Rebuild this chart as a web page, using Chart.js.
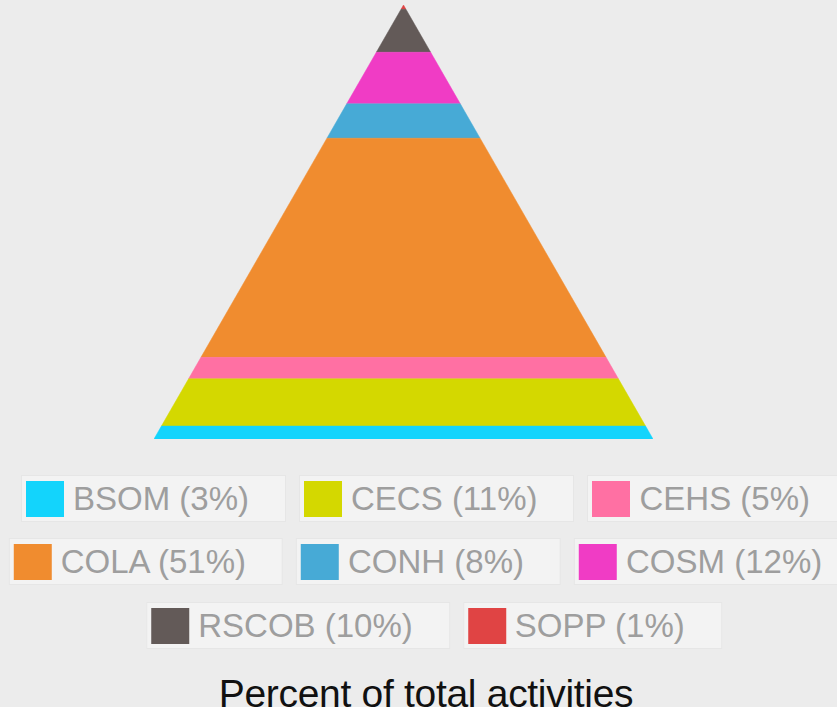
<!DOCTYPE html>
<html>
<head>
<meta charset="utf-8">
<script src="https://cdn.jsdelivr.net/npm/chart.js@4/dist/chart.umd.min.js"></script>
<style>
  html, body { margin: 0; padding: 0; background: #ececec; }
  #wrap { position: relative; width: 837px; height: 707px; overflow: hidden; font-family: "Liberation Sans", Arial, sans-serif; }
  #pyramid { position: absolute; left: 0; top: 0; }
  .row { position: absolute; left: 434px; transform: translateX(-50%); display: flex; gap: 13px; white-space: nowrap; }
  .item { display: flex; align-items: center; height: 47px; padding: 0 36px 0 4px; background: #f3f3f3; border: 1px solid #e6e6e6; box-sizing: border-box; }
  .box { width: 38px; height: 36px; margin-right: 9px; }
  .label { font-size: 33px; color: #9e9e9e; }
  #title { position: absolute; left: 0; width: 852px; top: 674px; text-align: center; font-size: 39px; line-height: 40px; color: #111; letter-spacing: -0.3px; }
</style>
</head>
<body>
<div id="wrap">
  <canvas id="pyramid" width="837" height="450"></canvas>
  <div id="legend"></div>
  <div id="title">Percent of total activities</div>
</div>
<script>
// bottom to top
const categories = ["BSOM", "CECS", "CEHS", "COLA", "CONH", "COSM", "RSCOB", "SOPP"];
const percents = [3, 11, 5, 51, 8, 12, 10, 1];
const colors = ["#13d4fc", "#d4d800", "#ff70a3", "#f08c2f", "#47aad6", "#f03cc5", "#635a58", "#e04444"];
const legendRows = [
    ["BSOM", "CECS", "CEHS"],
    ["COLA", "CONH", "COSM"],
    ["RSCOB", "SOPP"]
];

document.addEventListener("DOMContentLoaded", function () {
    const total = percents.reduce((a, b) => a + b, 0);
    const half = c => 50 * (1 - c / total);

    // each slice is a trapezoid in data units (x: half width, y: cumulative percent)
    let cum = 0;
    const datasets = categories.map((name, i) => {
        const lo = cum, hi = cum + percents[i];
        cum = hi;
        return {
            label: name,
            data: [
                { x: -half(lo), y: lo }, { x: half(lo), y: lo },
                { x: half(hi), y: hi }, { x: -half(hi), y: hi },
                { x: -half(lo), y: lo }
            ],
            backgroundColor: colors[i],
            borderColor: colors[i],
            borderWidth: 0.5,
            pointRadius: 0,
            tension: 0,
            fill: "shape"
        };
    });

    new Chart(document.getElementById("pyramid").getContext("2d"), {
        type: "line",
        data: { datasets: datasets },
        options: {
            responsive: false,
            animation: false,
            layout: { padding: { left: 154, right: 184, top: 5, bottom: 11 } },
            scales: {
                x: { type: "linear", min: -50, max: 50, display: false },
                y: { type: "linear", min: 0, max: total, display: false }
            },
            plugins: { legend: { display: false }, tooltip: { enabled: false } }
        }
    });

    // legend panels
    const legend = document.getElementById("legend");
    const tops = [475, 538, 602];
    legendRows.forEach((row, r) => {
        const div = document.createElement("div");
        div.className = "row";
        div.style.top = tops[r] + "px";
        row.forEach(name => {
            const i = categories.indexOf(name);
            const item = document.createElement("div");
            item.className = "item";
            item.innerHTML = '<span class="box" style="background:' + colors[i] + '"></span>' +
                '<span class="label">' + name + " (" + percents[i] + "%)</span>";
            div.appendChild(item);
        });
        legend.appendChild(div);
    });
});
</script>
</body>
</html>
